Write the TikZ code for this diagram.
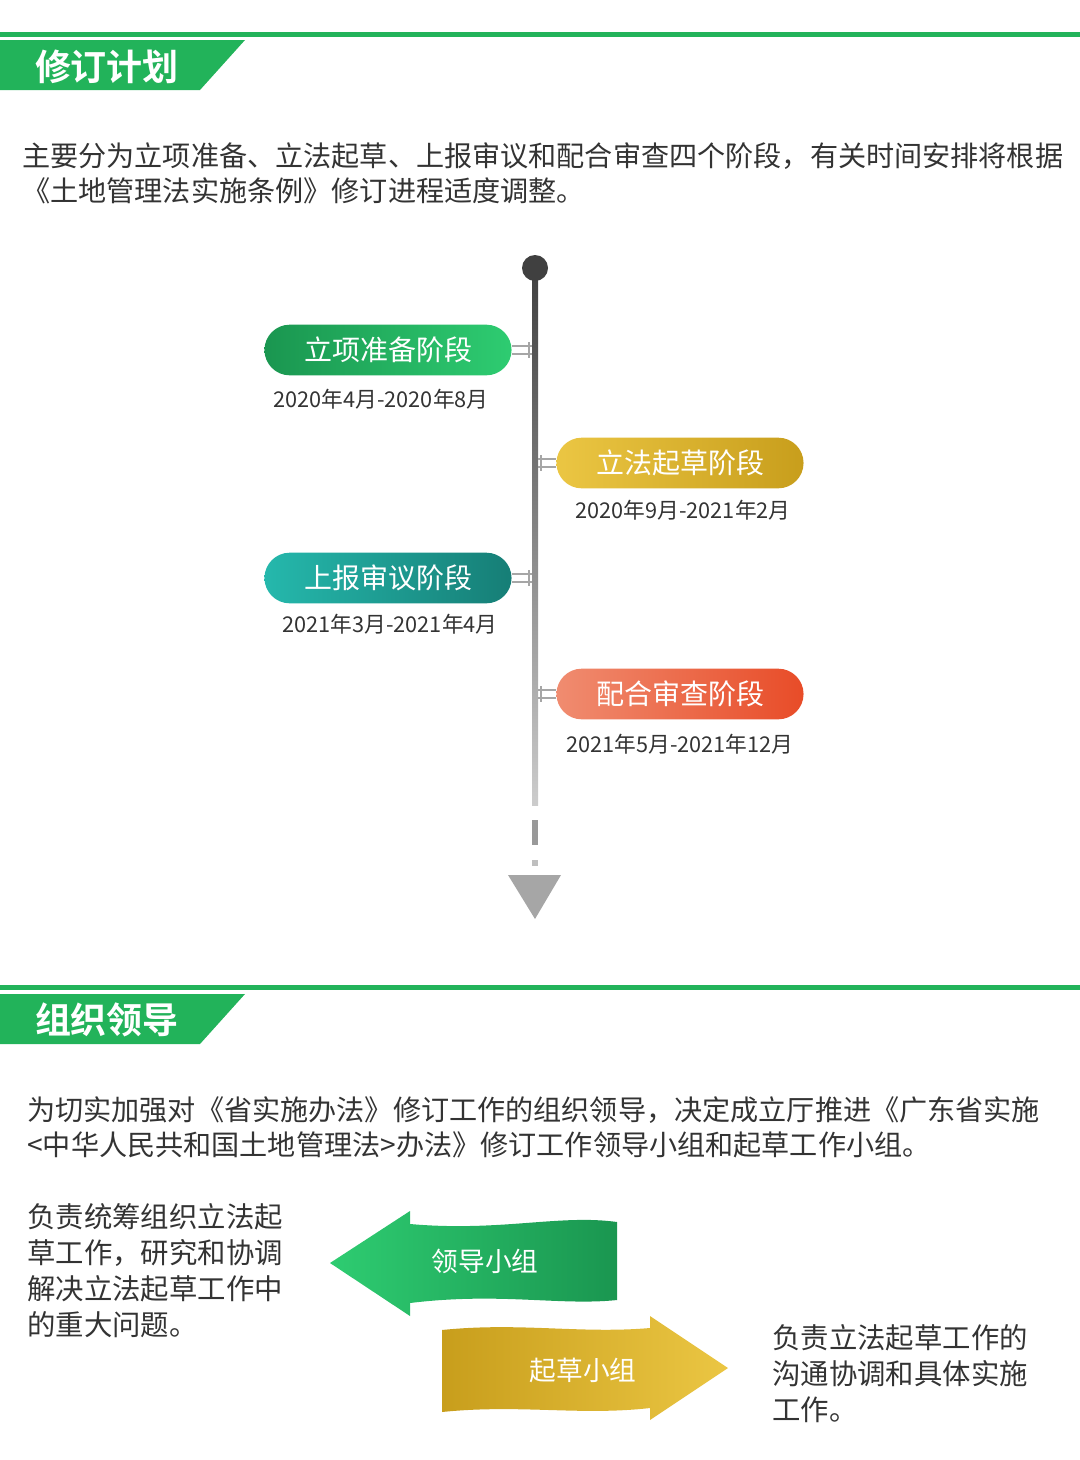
\documentclass[tikz,border=0pt]{standalone}
\usepackage{fontspec}
\setmainfont{Noto Sans CJK SC}
\newfontfamily\cjkb{Noto Sans CJK SC Bold}
\usetikzlibrary{shapes.misc}
\definecolor{hgreen}{HTML}{22B35A}
\definecolor{txt}{HTML}{333333}
\definecolor{g1}{HTML}{1A9650}\definecolor{g2}{HTML}{2ECC71}
\definecolor{y1}{HTML}{EBC643}\definecolor{y2}{HTML}{C89E1C}
\definecolor{t1}{HTML}{25B8AC}\definecolor{t2}{HTML}{167E76}
\definecolor{o1}{HTML}{F08C70}\definecolor{o2}{HTML}{E84C28}
\tikzset{
 para/.style={anchor=west,text=txt,font=\fontsize{21.1}{24}\selectfont,inner sep=0},
 side/.style={anchor=west,text=txt,font=\fontsize{21.3}{24}\selectfont,inner sep=0},
 pill/.style={rounded rectangle,minimum width=192pt,minimum height=38pt,text=white,font=\fontsize{21}{24}\selectfont},
 date/.style={text=txt,font=\fontsize{16.3}{19}\selectfont,inner sep=0},
 hdr/.style={text=white,font=\cjkb\fontsize{27}{30}\selectfont,inner sep=0},
 conn/.style={draw=gray!70,line width=1pt}
}
\begin{document}
\begin{tikzpicture}[x=0.75pt,y=-0.75pt]
\useasboundingbox (0,0) rectangle (1080,1460);
% header 1
\fill[hgreen] (0,32) rectangle (1080,37);
\fill[hgreen] (0,40) -- (245,40) -- (200,90) -- (0,90) -- cycle;
\node[hdr] (h1) at (107,67) {修订计划};
\node[para] (p1) at (22,156) {主要分为立项准备、立法起草、上报审议和配合审查四个阶段，有关时间安排将根据};
\node[para] (p2) at (22,191) {《土地管理法实施条例》修订进程适度调整。};
% timeline
\shade[top color=black!75,bottom color=black!20] (532,268) rectangle (538,805);
\fill[black!75] (535,268) circle (13);
\fill[black!40] (532,820) rectangle (538,845);
\fill[black!25] (532,860) rectangle (538,866);
\fill[black!35] (508,875) -- (561,875) -- (535,919) -- cycle;
% pills
\node[pill,left color=g1,right color=g2] (s1) at (388,350) {立项准备阶段};
\node[date] (d1) at (381,399) {2020年4月-2020年8月};
\node[pill,left color=y1,right color=y2] (s2) at (680,463) {立法起草阶段};
\node[date] (d2) at (683,510) {2020年9月-2021年2月};
\node[pill,left color=t1,right color=t2] (s3) at (388,578) {上报审议阶段};
\node[date] (d3) at (390,624) {2021年3月-2021年4月};
\node[pill,left color=o1,right color=o2] (s4) at (680,694) {配合审查阶段};
\node[date] (d4) at (680,744) {2021年5月-2021年12月};
\foreach \y in {350,578}{
 \draw[conn] (s1.east |- 0,\y-4) -- (532,\y-4); \draw[conn] (s1.east |- 0,\y+4) -- (532,\y+4); \draw[conn] (529,\y-8) -- (529,\y+8);}
\foreach \y in {463,694}{
 \draw[conn] (538,\y-4) -- (s2.west |- 0,\y-4); \draw[conn] (538,\y+4) -- (s2.west |- 0,\y+4); \draw[conn] (541,\y-8) -- (541,\y+8);}
% header 2
\fill[hgreen] (0,985) rectangle (1080,990);
\fill[hgreen] (0,994) -- (245,994) -- (200,1044) -- (0,1044) -- cycle;
\node[hdr] (h2) at (107,1020) {组织领导};
\node[para] (p3) at (27,1110) {为切实加强对《省实施办法》修订工作的组织领导，决定成立厅推进《广东省实施};
\node[para] (p4) at (27,1145) {<中华人民共和国土地管理法>办法》修订工作领导小组和起草工作小组。};
\foreach \t [count=\i] in {负责统筹组织立法起,草工作，研究和协调,解决立法起草工作中,的重大问题。}
  \node[side] (l\i) at (27,1181+36*\i) {\t};
\foreach \t [count=\i] in {负责立法起草工作的,沟通协调和具体实施,工作。}
  \node[side] (r\i) at (772,1302+36*\i) {\t};
% arrows
\shade[left color=g2,right color=g1] (330,1263) -- (410,1211) -- (410,1224) .. controls (500,1232) and (560,1214) .. (617,1222) -- (617,1300) .. controls (560,1306) and (500,1292) .. (410,1303) -- (410,1316) -- cycle;
\node[text=white,font=\fontsize{20}{22}\selectfont] (g) at (485,1261) {领导小组};
\shade[left color=y2,right color=y1] (442,1330) .. controls (520,1322) and (580,1334) .. (650,1328) -- (650,1316) -- (728,1368) -- (650,1420) -- (650,1408) .. controls (580,1416) and (520,1404) .. (442,1412) -- cycle;
\node[text=white,font=\fontsize{20}{22}\selectfont] (y) at (583,1370) {起草小组};
\end{tikzpicture}
\end{document}
